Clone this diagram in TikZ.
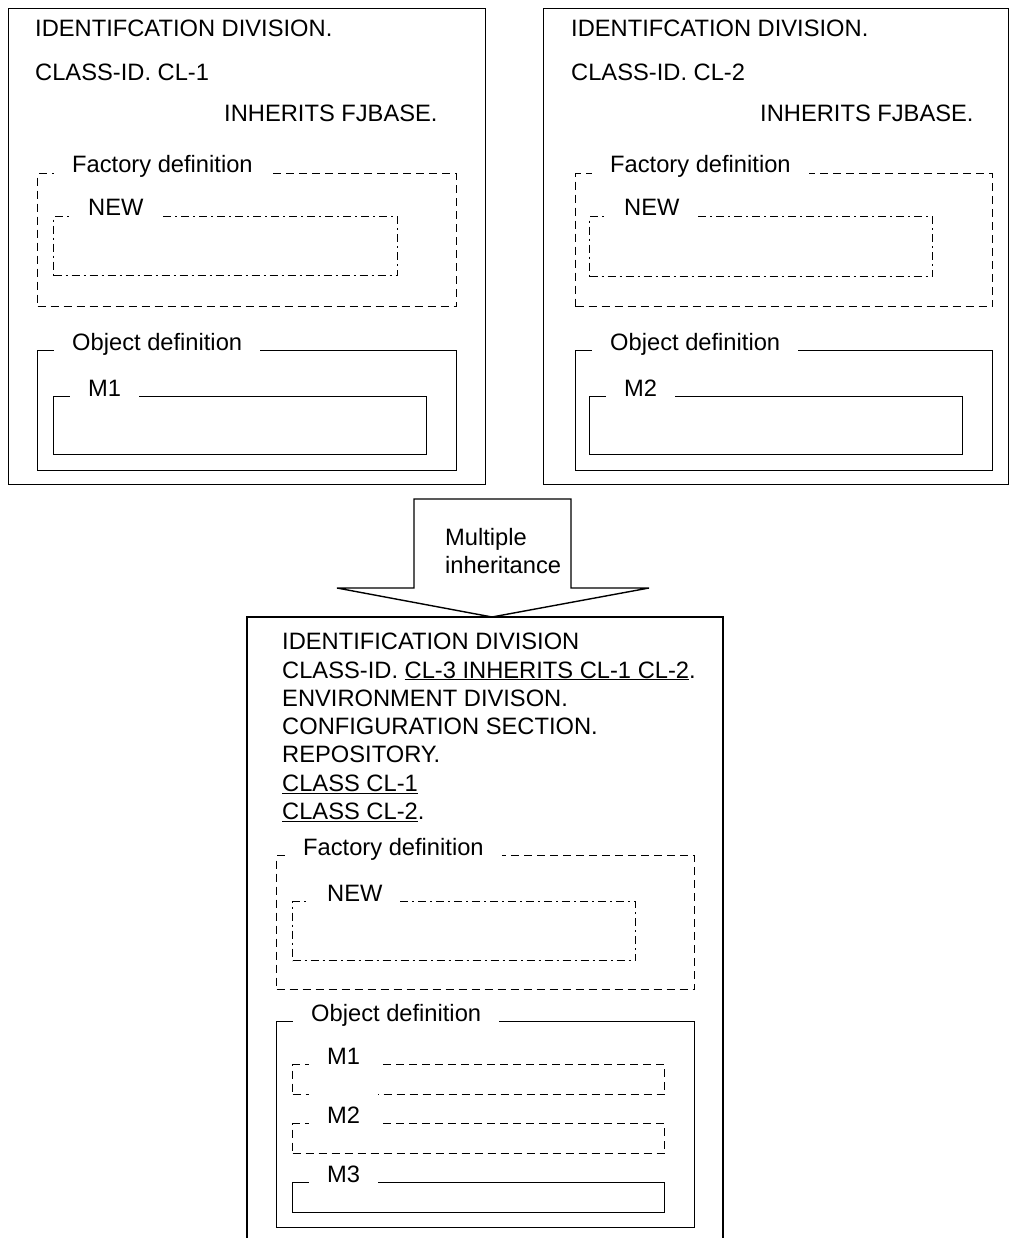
\documentclass[tikz,border=0pt]{standalone}
\usepackage{fontspec}
\setmainfont{Liberation Sans}
\usetikzlibrary{positioning, calc}

\begin{document}
\begin{tikzpicture}[
    x=1pt, y=-1pt,
    every node/.style={font=\fontsize{23.7}{28.3}\selectfont},
    frame/.style={rectangle, draw, line width=1.4pt, anchor=north west, inner sep=0pt},
    dashframe/.style={frame, dash pattern=on 8pt off 5pt},
    dotframe/.style={frame, dash pattern=on 8pt off 4pt on 2pt off 4pt},
    lbl/.style={anchor=base west, fill=white, inner xsep=18pt, inner ysep=3pt},
    txt/.style={anchor=base west, inner sep=0pt}
]
    \useasboundingbox (0,0) rectangle (1009,1238);

    % CL-1
    \node[frame, minimum width=477pt, minimum height=476pt] (cls1) at (8,8) {};
    \node[txt] (id1) at (35,37) {IDENTIFCATION DIVISION.};
    \node[txt] (cid1) at (35,81) {CLASS-ID. CL-1};
    \node[txt] (inh1) at (224,122) {INHERITS FJBASE.};
    \node[dashframe, minimum width=419pt, minimum height=133pt] (fac1) at (37,173) {};
    \node[lbl] (fac1lbl) at ([xshift=17pt]fac1.north west) {Factory definition};
    \node[dotframe, minimum width=344pt, minimum height=59pt] (new1) at (53,216) {};
    \node[lbl] (new1lbl) at ([xshift=17pt]new1.north west) {NEW};
    \node[frame, minimum width=419pt, minimum height=120pt] (obj1) at (37,350) {};
    \node[lbl] (obj1lbl) at ([xshift=17pt]obj1.north west) {Object definition};
    \node[frame, minimum width=373pt, minimum height=58pt] (m1) at (53,396) {};
    \node[lbl] (m1lbl) at ([xshift=17pt]m1.north west) {M1};

    % CL-2
    \node[frame, minimum width=465pt, minimum height=476pt] (cls2) at (543,8) {};
    \node[txt] (id2) at (571,37) {IDENTIFCATION DIVISION.};
    \node[txt] (cid2) at (571,81) {CLASS-ID. CL-2};
    \node[txt] (inh2) at (760,122) {INHERITS FJBASE.};
    \node[dashframe, minimum width=417pt, minimum height=133pt] (fac2) at (575,173) {};
    \node[lbl] (fac2lbl) at ([xshift=17pt]fac2.north west) {Factory definition};
    \node[dotframe, minimum width=343pt, minimum height=60pt] (new2) at (589,216) {};
    \node[lbl] (new2lbl) at ([xshift=17pt]new2.north west) {NEW};
    \node[frame, minimum width=417pt, minimum height=120pt] (obj2) at (575,350) {};
    \node[lbl] (obj2lbl) at ([xshift=17pt]obj2.north west) {Object definition};
    \node[frame, minimum width=373pt, minimum height=58pt] (m2) at (589,396) {};
    \node[lbl] (m2lbl) at ([xshift=17pt]m2.north west) {M2};

    % block arrow
    \draw[line width=1.4pt, fill=white] (414,588) |- (571,499) |- (649,588) -- (492,617) -- (337,588) -- cycle;
    \node[anchor=north west, align=left, inner sep=0pt] (multi) at (445,528) {Multiple\\inheritance};

    % CL-3
    \draw[line width=1.4pt] (247,1240) |- (723,617) -- (723,1240);
    \node[anchor=north west, align=left, inner sep=0pt] (code3) at (282,633) {%
        IDENTIFICATION DIVISION\\
        CLASS-ID. \underline{CL-3 INHERITS CL-1 CL-2}.\\
        ENVIRONMENT DIVISON.\\
        CONFIGURATION SECTION.\\
        REPOSITORY.\\
        \underline{CLASS CL-1}\\
        \underline{CLASS CL-2}.};
    \node[dashframe, minimum width=418pt, minimum height=134pt] (fac3) at (276,855) {};
    \node[lbl] (fac3lbl) at ([xshift=9pt]fac3.north west) {Factory definition};
    \node[dotframe, minimum width=343pt, minimum height=59pt] (new3) at (292,901) {};
    \node[lbl] (new3lbl) at ([xshift=17pt]new3.north west) {NEW};
    \node[frame, minimum width=418pt, minimum height=206pt] (obj3) at (276,1021) {};
    \node[lbl] (obj3lbl) at ([xshift=17pt]obj3.north west) {Object definition};
    \node[dashframe, minimum width=372pt, minimum height=30pt] (m31) at (292,1064) {};
    \node[lbl, text depth=30pt] (m31lbl) at ([xshift=17pt]m31.north west) {M1};
    \node[dashframe, minimum width=372pt, minimum height=30pt] (m32) at (292,1123) {};
    \node[lbl] (m32lbl) at ([xshift=17pt]m32.north west) {M2};
    \node[frame, minimum width=372pt, minimum height=30pt] (m33) at (292,1182) {};
    \node[lbl] (m33lbl) at ([xshift=17pt]m33.north west) {M3};
\end{tikzpicture}
\end{document}
